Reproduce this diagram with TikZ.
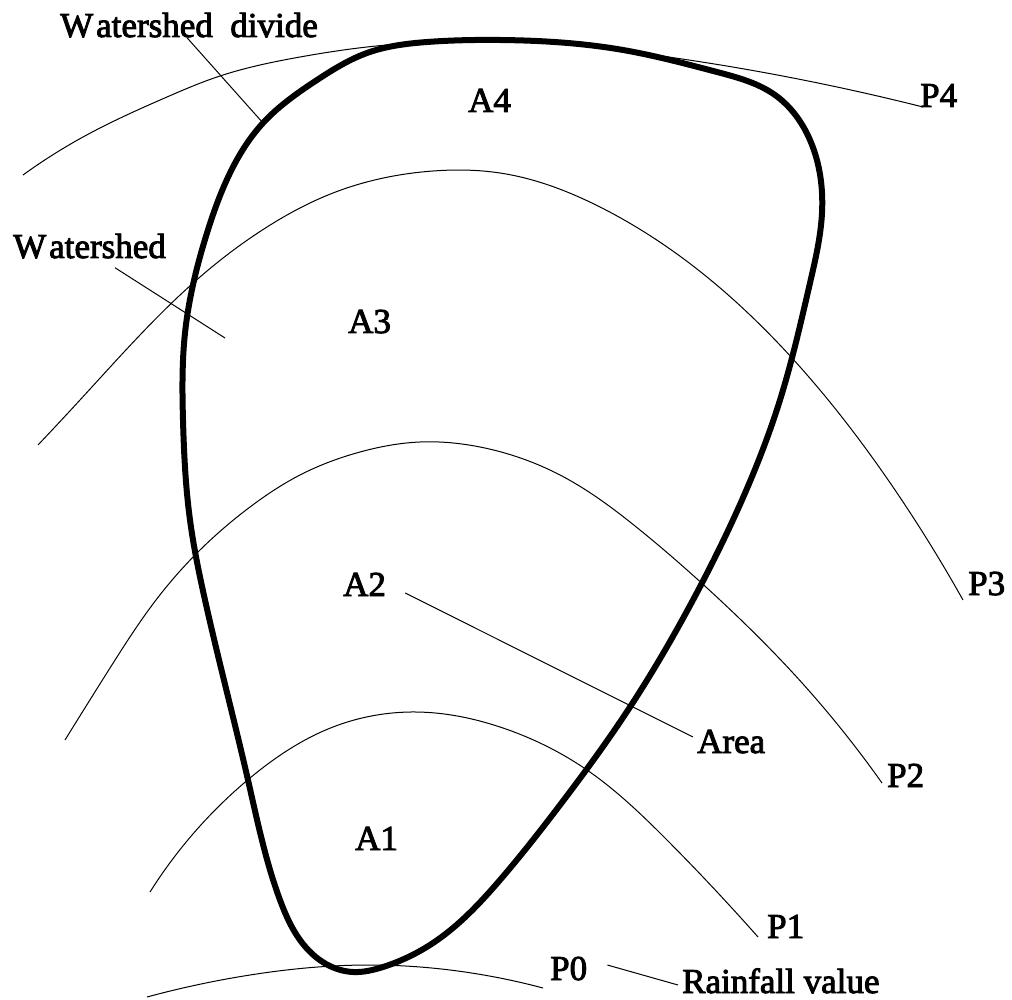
\documentclass[tikz,border=0pt]{standalone}
\usepackage{fontspec}
\setmainfont{Liberation Serif}[FakeBold=2.6]
\usetikzlibrary{hobby}
\begin{document}
\begin{tikzpicture}[x=1pt,y=-1pt,
  lbl/.style={inner sep=0pt, anchor=base west, font=\fontsize{35}{40}\selectfont},
  iso/.style={line width=1pt},
  divide/.style={line width=6pt, line join=round},
  leader/.style={line width=1pt}]
\useasboundingbox (0,0) rectangle (1012,1000);
% watershed boundary
\draw[divide] plot[closed hobby] coordinates {
 (500,40) (623,50) (717,72) (775,95) (810,140) (822,213) (810,283) (780,400)
 (742,500) (693,600) (630,707) (560,805) (500,880) (433,943) (383,967) (353,972)
 (326,964) (300,940) (280,900) (248,780) (205,600) (190,520) (183,420)
 (185,333) (207,233) (233,167) (263,123) (317,80) (367,53) (427,42)};
% isohyets
\draw[iso] plot[hobby] coordinates {
 (23,175) (83,137) (167,97) (217,77) (300,57) (367,47) (427,42) (500,40) (560,44) (623,51)};
\draw[iso] plot[hobby] coordinates {(623,51) (793,78) (923,107)};
\draw[iso] plot[hobby] coordinates {
 (38,445) (80,400) (140,335) (200,277) (267,227) (333,193) (433,171) (500,173)
 (600,207) (707,277) (792,358) (895,490) (963,600)};
\draw[iso] plot[hobby] coordinates {
 (65,740) (110,668) (156,600) (197,553) (250,507) (300,475) (360,452) (420,442)
 (480,447) (560,475) (640,530) (720,600) (793,673) (882,783)};
\draw[iso] plot[hobby] coordinates {
 (150,892) (250,778) (333,727) (417,712) (500,727) (587,770) (667,840) (758,937)};
\draw[iso] plot[hobby] coordinates {
 (147,997) (250,975) (370,965) (450,970) (543,988)};
% labels
\node[lbl] (wd) at (60,37) {W\kern3pt atershed\ \ divide};
\node[lbl] (ws) at (13,258) {W\kern3pt atershed};
\node[lbl] (a4) at (468,112) {A4};
\node[lbl] (a3) at (348,333) {A3};
\node[lbl] (a2) at (343,596) {A2};
\node[lbl] (a1) at (355,850) {A1};
\node[lbl] (p4) at (920,107) {P4};
\node[lbl] (p3) at (968,595) {P3};
\node[lbl] (p2) at (887,787) {P2};
\node[lbl] (p1) at (767,938) {P1};
\node[lbl] (p0) at (550,980) {P0};
\node[lbl] (rv) at (682,993) {Rainfall value};
\node[lbl] (ar) at (697,753) {Area};
% leaders
\coordinate (wdEnd) at (263,123);
\coordinate (wsEnd) at (225,338);
\draw[leader] (wd.south west) ++(127,0) -- (wdEnd);
\draw[leader] (ws.south west) ++(102,9) -- (wsEnd);
\draw[leader] (a2.base east) ++(19,-3) -- ([xshift=-4pt,yshift=16pt]ar.base west);
\draw[leader] (p0.base east) ++(20,-15) -- ([xshift=-4pt,yshift=8pt]rv.base west);
\end{tikzpicture}
\end{document}
